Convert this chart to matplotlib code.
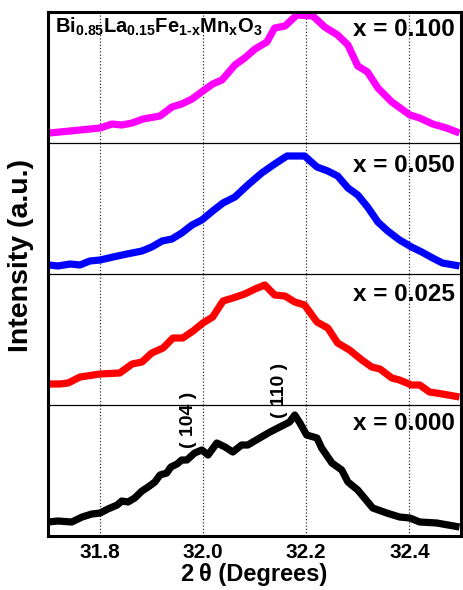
import matplotlib
matplotlib.use('Agg')
import matplotlib.pyplot as plt

plt.rcParams['font.family'] = 'Liberation Sans'
plt.rcParams['font.weight'] = 'bold'
plt.rcParams['mathtext.fontset'] = 'custom'
plt.rcParams['mathtext.rm'] = 'Liberation Sans:bold'
plt.rcParams['mathtext.it'] = 'Liberation Sans:bold'
plt.rcParams['mathtext.bf'] = 'Liberation Sans:bold'

# 2theta (deg) and intensity (a.u.), top panel first
tt_100 = [31.702, 31.743, 31.762, 31.801, 31.824, 31.843, 31.863, 31.884, 31.917, 31.940,
          31.959, 31.979, 32.000, 32.019, 32.037, 32.062, 32.081, 32.101, 32.124, 32.139,
          32.159, 32.182, 32.213, 32.236, 32.261, 32.281, 32.300, 32.319, 32.339, 32.366,
          32.401, 32.420, 32.445, 32.472, 32.497]
int_100 = [10, 12, 13, 15, 19, 18, 20, 24, 27, 36, 39, 44, 52, 59, 63, 78, 85, 94, 101, 115,
           117, 128, 127, 116, 108, 98, 77, 71, 55, 41, 28, 25, 19, 15, 10]

tt_050 = [31.702, 31.719, 31.743, 31.762, 31.781, 31.801, 31.826, 31.853, 31.882, 31.901,
          31.921, 31.940, 31.959, 31.979, 31.998, 32.019, 32.039, 32.062, 32.087, 32.114,
          32.139, 32.163, 32.197, 32.221, 32.242, 32.261, 32.281, 32.300, 32.319, 32.339,
          32.358, 32.381, 32.404, 32.424, 32.445, 32.464, 32.497]
int_050 = [9, 8, 10, 9, 13, 14, 17, 20, 23, 27, 33, 35, 41, 49, 54, 63, 71, 77, 89, 101,
           110, 118, 118, 107, 103, 98, 86, 79, 67, 52, 43, 34, 27, 22, 16, 11, 8]

tt_025 = [31.702, 31.723, 31.739, 31.762, 31.801, 31.839, 31.863, 31.882, 31.901, 31.923,
          31.942, 31.961, 31.981, 32.000, 32.019, 32.039, 32.058, 32.081, 32.101, 32.120,
          32.139, 32.159, 32.178, 32.197, 32.221, 32.242, 32.261, 32.284, 32.308, 32.327,
          32.343, 32.366, 32.381, 32.404, 32.420, 32.439, 32.464, 32.497]
int_025 = [21, 21, 22, 28, 31, 32, 41, 43, 52, 57, 67, 67, 74, 82, 88, 104, 107, 111, 116, 120,
           110, 109, 103, 100, 83, 77, 62, 55, 45, 38, 36, 27, 25, 20, 20, 13, 11, 8]

tt_000 = [31.700, 31.719, 31.746, 31.766, 31.785, 31.801, 31.816, 31.834, 31.843, 31.855,
          31.868, 31.882, 31.894, 31.907, 31.917, 31.930, 31.938, 31.950, 31.959, 31.969,
          31.984, 31.998, 32.010, 32.027, 32.043, 32.058, 32.075, 32.087, 32.110, 32.130,
          32.149, 32.168, 32.178, 32.188, 32.201, 32.221, 32.230, 32.250, 32.269, 32.281,
          32.300, 32.329, 32.356, 32.381, 32.401, 32.420, 32.453, 32.497]
int_000 = [14, 15, 14, 19, 22, 23, 27, 31, 35, 34, 38, 45, 49, 54, 61, 63, 69, 72, 76, 76,
           83, 86, 81, 93, 89, 84, 91, 91, 98, 104, 109, 114, 121, 113, 101, 98, 88, 73, 66, 54,
           46, 28, 23, 19, 18, 14, 13, 9]

series = [(tt_100, int_100), (tt_050, int_050), (tt_025, int_025), (tt_000, int_000)]
labels = ['x = 0.100', 'x = 0.050', 'x = 0.025', 'x = 0.000']
colors = ['#ff00ff', '#0000ff', '#ff0000', 'black']
label_y = [0.87, 0.825, 0.847, 0.862]
ticks = [31.8, 32.0, 32.2, 32.4]
tick_labels = ['31.8', '32.0', '32.2', '32.4']

fig = plt.figure(figsize=(4.63, 5.90), dpi=100)
axes = fig.subplots(4, 1, sharex=True, gridspec_kw=dict(hspace=0))
fig.subplots_adjust(left=48/463, right=461/463, top=1-12/590, bottom=1-536/590)

for i, ax in enumerate(axes):
    tt, inten = series[i]
    for t in ticks:
        ax.axvline(t, color='#333333', lw=0.9, ls=(0, (1, 1.6)), zorder=1)
    ax.plot(tt, inten, color=colors[i], lw=5.2, solid_joinstyle='round',
            solid_capstyle='butt', zorder=2)
    ax.set_xlim(31.7, 32.5)
    ax.set_ylim(0, 131)
    ax.set_yticks([])
    ax.text(0.985, label_y[i], labels[i], transform=ax.transAxes, ha='right',
            va='center', fontsize=17.5, fontweight='bold')
    ax.spines['left'].set_linewidth(2.2)
    ax.spines['right'].set_linewidth(2.2)
    if i == 0:
        ax.spines['top'].set_linewidth(2.2)
    else:
        ax.spines['top'].set_linewidth(0.9)
    if i == 3:
        ax.spines['bottom'].set_linewidth(2.2)
    else:
        ax.spines['bottom'].set_visible(False)
    ax.tick_params(axis='x', length=0, pad=5, labelsize=15)

axes[0].text(0.017, 0.84, r'$\mathrm{Bi_{0.85}La_{0.15}Fe_{1\text{-}x}Mn_xO_3}$',
             transform=axes[0].transAxes, fontsize=14.5, va='baseline')

axes[3].set_xticks(ticks)
axes[3].set_xticklabels(tick_labels)
axes[3].set_xlabel('2\u2009θ (Degrees)', fontsize=17, fontweight='bold', labelpad=1)

# peak labels
axes[3].text(31.973, 116, '( 104 )', rotation=90, ha='center', va='center',
             fontsize=14, clip_on=False, zorder=5)
axes[3].text(32.148, 146, '( 110 )', rotation=90, ha='center', va='center',
             fontsize=14, clip_on=False, zorder=5)

fig.text(21/463, 1-256/590, 'Intensity (a.u.)', rotation=90, ha='center',
         va='center', fontsize=20.5, fontweight='bold')

fig.savefig('out.png', dpi=100)
